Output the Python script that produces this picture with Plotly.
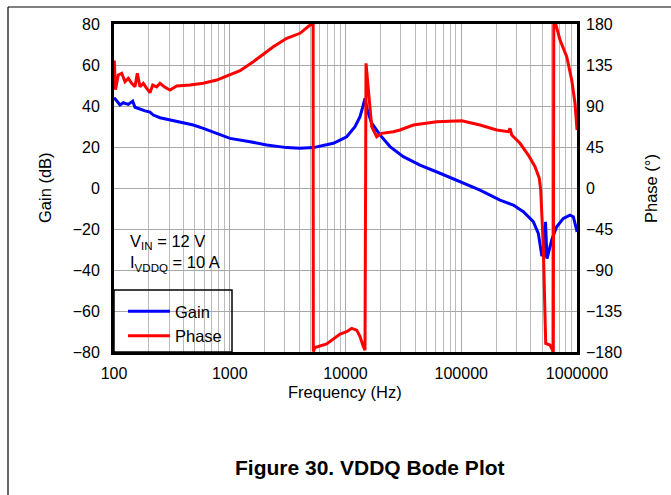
import plotly.graph_objects as go

# Bode plot data
gain_freq = [100, 103, 112.7, 120.3, 132.9, 145, 151.8, 167.7, 185.3, 204.6, 218.5, 249.7, 304.7,
             371.7, 484.3, 590.9, 770, 1005, 1496, 2085, 3105, 4045, 5270, 7846, 8966, 10240,
             12080, 13350, 14250, 14740, 15430, 16840, 19870, 24240, 31580, 44010, 65530,
             104200, 145200, 216200, 281700, 343700, 419300, 463200, 495500, 523900, 534400,
             550600, 604400, 667700, 761600, 869900, 929000, 994000, 1000000]
gain_db = [44, 43.3, 40.5, 41.6, 40.8, 42.4, 39.4, 38.4, 37.6, 37, 35.6, 34.3, 33.2,
           32.3, 30.7, 29.1, 26.5, 24.2, 22.6, 21, 19.7, 19.4, 19.7, 21.8, 23.4, 25,
           29.9, 34.8, 40.5, 43.7, 38, 31.6, 25.9, 20.2, 15.3, 11.2, 7.2,
           2.3, -1, -5.9, -8.3, -11.6, -16.4, -22.1, -32.7, -33, -16.5,
           -34.5, -25.4, -18.9, -14.8, -13.2, -14, -20.5, -21.5]

phase_freq = [100, 100.6, 103, 108.9, 116.6, 124.5, 132.9, 142.2, 151.8, 159, 167.7, 179.1,
              191.6, 204.6, 215.9, 233.8, 249.7, 275.8, 304.7, 348, 453.5, 590.9, 771.3, 1005,
              1226, 1598, 2378, 3105, 4045, 4935, 5250, 5270, 5451, 6880, 8966, 10240, 11310,
              12500, 13350, 14250, 14740, 15040, 15740, 16840, 18600, 20550, 25880, 29570,
              38530, 61380, 100900, 145200, 202400, 255000, 263800, 272900, 321800, 379700,
              433800, 472500, 485800, 511600, 536500, 584300, 624300, 630000, 658700, 713300,
              815300, 900300, 960900, 1000000]
phase_deg = [112, 140, 108, 124, 125.9, 116.7, 120.4, 114.9, 111.2, 125.9, 111.2, 114.9,
             109.4, 104.6, 113, 111, 115, 110.5, 107.6, 112, 113, 114.9, 118.5, 124,
             128.7, 138.6, 155, 164.3, 169.8, 178.9, 179.8, -179.5, -175, -171.2, -160.3, -157.7, -154,
             -156, -163, -174, -178, 136.8, 107.6, 67.3, 56.3, 60, 61.8, 63.7,
             69.1, 72.8, 73.9, 69.1, 63.7, 61.8, 65.5, 58.2, 49.1, 36.2,
             23.4, 10.6, -2.2, -64.4, -170.5, -172.3, -179.7, 179.5, 178.9, 162.4,
             144.1, 118.5, 93, 63.7]

freq_ticks = [100, 1000, 10000, 100000, 1000000]
freq_minor = [m * d for d in [100, 1000, 10000, 100000] for m in range(2, 10)]
gain_ticks = list(range(-80, 81, 20))
phase_ticks = list(range(-180, 181, 45))


def lbl(v):
    return str(v).replace("-", "\u2212")


FONT = "Liberation Sans, Arial, sans-serif"

fig = go.Figure()
fig.add_trace(go.Scatter(x=gain_freq, y=gain_db, name="Gain", mode="lines",
                         line=dict(color="#0000ff", width=3)))
fig.add_trace(go.Scatter(x=phase_freq, y=phase_deg, name="Phase", mode="lines", yaxis="y2",
                         line=dict(color="#ff0000", width=3)))

# pixel -> paper helpers (plot area 114..577 x 24..352)
def px(x):
    return (x - 114) / 463


def py(y):
    return (352 - y) / 328


fig.update_layout(
    width=671, height=495,
    margin=dict(l=114, r=94, t=24, b=143),
    paper_bgcolor="white", plot_bgcolor="white",
    font=dict(family=FONT, size=16, color="black"),
    showlegend=True,
    legend=dict(x=px(123), y=py(294), xanchor="left", yanchor="top",
                bgcolor="rgba(0,0,0,0)", borderwidth=0,
                font=dict(size=16.5), tracegroupgap=0, itemwidth=42),
    xaxis=dict(type="log", range=[2, 6], tickvals=freq_ticks,
               ticktext=[str(v) for v in freq_ticks],
               showgrid=True, gridcolor="#a8a8a8", gridwidth=1,
               minor=dict(tickvals=freq_minor, showgrid=True, gridcolor="#bcbcbc", gridwidth=1),
               showline=True, linecolor="black", linewidth=3, mirror=True,
               ticks="", ticklabelstandoff=5, zeroline=False),
    yaxis=dict(range=[-80, 80], tickvals=gain_ticks, ticktext=[lbl(v) for v in gain_ticks],
               showgrid=True, gridcolor="#a8a8a8", gridwidth=1,
               showline=True, linecolor="black", linewidth=3, mirror=True,
               ticks="", ticklabelstandoff=8, zeroline=False),
    yaxis2=dict(range=[-180, 180], tickvals=phase_ticks, ticktext=[lbl(v) for v in phase_ticks],
                overlaying="y", side="right", showgrid=False, zeroline=False,
                ticks="", ticklabelstandoff=8),
    shapes=[
        # white box behind the condition text and legend
        dict(type="rect", xref="paper", yref="paper", x0=0, x1=px(232), y0=0, y1=py(222),
             fillcolor="white", line=dict(width=0), layer="between"),
        # legend border
        dict(type="rect", xref="paper", yref="paper", x0=0, x1=px(232), y0=0, y1=py(290),
             fillcolor="rgba(0,0,0,0)", line=dict(color="black", width=1.5), layer="above"),
        # outer figure frame
        dict(type="line", xref="paper", yref="paper", x0=px(8), x1=px(675), y0=py(7), y1=py(7),
             line=dict(color="black", width=1.2)),
        dict(type="line", xref="paper", yref="paper", x0=px(8), x1=px(8), y0=py(7), y1=py(500),
             line=dict(color="black", width=1.2)),
    ],
    annotations=[
        dict(text="V<sub>IN</sub> = 12 V<br>I<sub>VDDQ</sub> = 10 A", xref="paper", yref="paper",
             x=px(128), y=py(253), xanchor="left", yanchor="middle", align="left",
             showarrow=False, font=dict(size=16.5)),
        dict(text="Gain (dB)", xref="paper", yref="paper", x=px(45), y=py(188), textangle=-90,
             xanchor="center", yanchor="middle", showarrow=False, font=dict(size=16.5)),
        dict(text="Phase (°)", xref="paper", yref="paper", x=px(651), y=py(189), textangle=-90,
             xanchor="center", yanchor="middle", showarrow=False, font=dict(size=16.5)),
        dict(text="Frequency (Hz)", xref="paper", yref="paper", x=px(345), y=py(392),
             xanchor="center", yanchor="middle", showarrow=False, font=dict(size=16.5)),
        dict(text="<b>Figure 30. VDDQ Bode Plot</b>", xref="paper", yref="paper", x=px(370),
             y=py(467), xanchor="center", yanchor="middle", showarrow=False,
             font=dict(size=21)),
    ],
)

fig.write_html("out.html", config={"displayModeBar": False},
               post_script="document.body.style.margin='0';")
